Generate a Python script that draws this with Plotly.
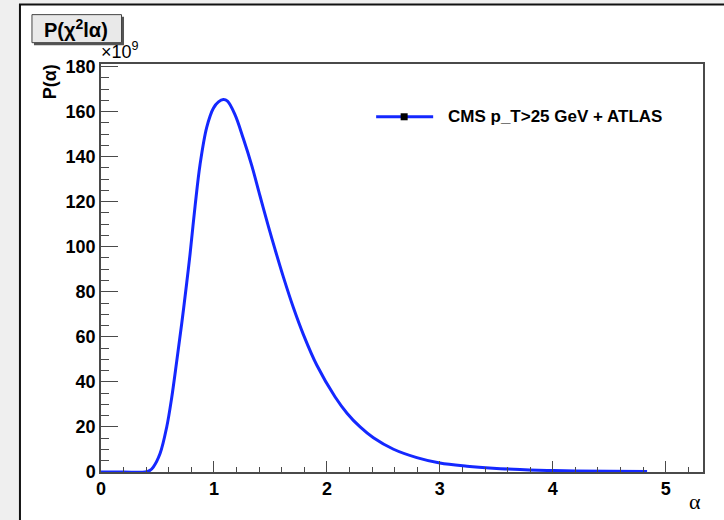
import plotly.graph_objects as go

# ---- data (P(alpha) in units of 1e9) ----
alpha = [0.0, 0.2, 0.39, 0.43, 0.463, 0.523, 0.582, 0.626, 0.67, 0.715, 0.759,
         0.788, 0.833, 0.877, 0.936, 0.995, 1.04, 1.083, 1.12, 1.187, 1.26,
         1.335, 1.408, 1.482, 1.541, 1.615, 1.703, 1.792, 1.91, 2.073, 2.18,
         2.294, 2.412, 2.59, 2.796, 3.0, 3.24, 3.47, 3.71, 3.95, 4.2, 4.5, 4.835]
p_alpha = [0.0, 0.0, 0.0, 0.6, 2.2, 8.2, 20.0, 33.0, 49.0, 66.0, 84.0,
           96.5, 118.0, 136.5, 153.0, 161.5, 164.3, 165.3, 164.6, 158.5, 148.0,
           136.0, 122.5, 109.0, 98.8, 86.5, 73.0, 61.0, 47.5, 33.3, 26.0,
           20.0, 15.2, 10.1, 6.4, 4.0, 2.6, 1.7, 1.1, 0.7, 0.45, 0.28, 0.18]
series_name = "CMS p_T>25 GeV + ATLAS"
x_ticks = [0, 1, 2, 3, 4, 5]
y_ticks = [0, 20, 40, 60, 80, 100, 120, 140, 160, 180]

W, H = 724, 520
L, R, T, B = 101, 21.3, 64.3, 48.3
pw, ph = W - L - R, H - T - B


def px(x):
    return (x - L) / pw


def py(y):
    return (H - B - y) / ph


BLUE = "#1428ff"
FONT = "Liberation Sans, Arial, Helvetica, sans-serif"

fig = go.Figure()
fig.add_trace(go.Scatter(x=alpha, y=p_alpha, mode="lines",
                         line=dict(color=BLUE, width=3, shape="spline", smoothing=1.0),
                         name=series_name, showlegend=False))

shapes = [
    # canvas (white with black frame on left/top)
    dict(type="rect", xref="paper", yref="paper", x0=px(20), x1=px(740), y0=py(540), y1=py(5),
         fillcolor="white", line=dict(color="#111", width=2), layer="below"),
    # title box shadow
    dict(type="rect", xref="paper", yref="paper", x0=px(34), x1=px(124), y0=py(45.5), y1=py(17),
         fillcolor="#555", line=dict(width=0), layer="above"),
    # title box
    dict(type="rect", xref="paper", yref="paper", x0=px(32), x1=px(121.5), y0=py(43), y1=py(15),
         fillcolor="#e9e9e9", line=dict(color="#444", width=1), layer="above"),
    # legend sample line
    dict(type="line", xref="paper", yref="paper", x0=px(376), x1=px(433), y0=py(117), y1=py(117),
         line=dict(color=BLUE, width=3), layer="above"),
    dict(type="rect", xref="paper", yref="paper", x0=px(400.5), x1=px(407.5), y0=py(120.5), y1=py(113.5),
         fillcolor="black", line=dict(width=0), layer="above"),
]

annotations = [
    dict(text="<b>P(χ<sup>2</sup>lα)</b>", xref="paper", yref="paper", x=px(76.5), y=py(29),
         xanchor="center", yanchor="middle", showarrow=False,
         font=dict(family=FONT, size=20, color="black")),
    dict(text="×10<sup>9</sup>", xref="paper", yref="paper", x=px(99), y=py(64.5),
         xanchor="left", yanchor="bottom", showarrow=False,
         font=dict(family=FONT, size=18, color="black")),
    dict(text="<b>P(α)</b>", xref="paper", yref="paper", x=px(49.5), y=py(82),
         xanchor="center", yanchor="middle", textangle=-90, showarrow=False,
         font=dict(family=FONT, size=18, color="black")),
    dict(text="α", xref="paper", yref="paper", x=px(695), y=py(501),
         xanchor="center", yanchor="middle", showarrow=False,
         font=dict(family="Liberation Serif, DejaVu Serif, serif", size=22, color="black")),
    dict(text="<b>" + series_name + "</b>", xref="paper", yref="paper", x=px(446), y=py(117),
         xanchor="left", yanchor="middle", showarrow=False,
         font=dict(family=FONT, size=17, color="black")),
]

axis_common = dict(showgrid=False, zeroline=False, showline=True, mirror=True,
                   linecolor="#4a4a4a", linewidth=1.5, ticks="inside", tickcolor="#4a4a4a",
                   tickwidth=1.3, tickfont=dict(family=FONT, size=18, color="black", weight="bold"))

fig.update_xaxes(range=[0, 5.33], tickmode="array", tickvals=x_ticks,
                 ticktext=[str(v) for v in x_ticks], ticklen=11,
                 minor=dict(dtick=0.2, ticks="inside", ticklen=5.5, tickcolor="#4a4a4a", tickwidth=1.2),
                 **axis_common)
fig.update_yaxes(range=[0, 181.1], tickmode="array", tickvals=y_ticks,
                 ticktext=[str(v) for v in y_ticks], ticklen=17,
                 minor=dict(dtick=5, ticks="inside", ticklen=8.5, tickcolor="#4a4a4a", tickwidth=1.2),
                 **axis_common)

fig.update_layout(width=W, height=H, margin=dict(l=L, r=R, t=T, b=B, pad=0),
                  paper_bgcolor="#efefef", plot_bgcolor="white",
                  shapes=shapes, annotations=annotations, showlegend=False,
                  font=dict(family=FONT))

fig.write_html("out.html", post_script="document.body.style.margin='0';")
